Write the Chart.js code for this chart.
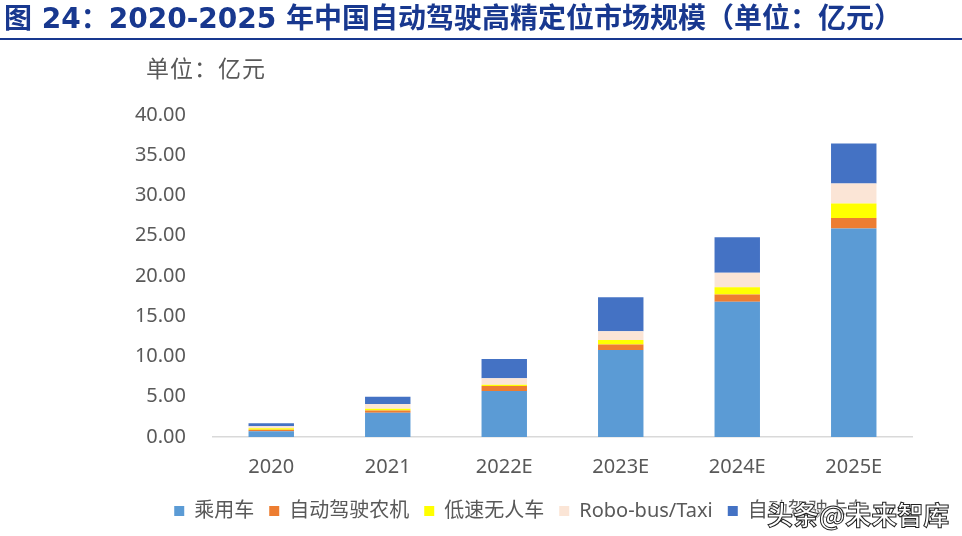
<!DOCTYPE html>
<html>
<head>
<meta charset="utf-8">
<script src="https://cdn.jsdelivr.net/npm/chart.js@4/dist/chart.umd.min.js"></script>
<style>
  html,body{margin:0;padding:0;background:#fff;}
  #wrap{position:relative;width:962px;height:536px;overflow:hidden;font-family:'Noto Sans','Noto Sans CJK SC',sans-serif;}
  #title{position:absolute;left:4px;top:4px;font:bold 28px 'DejaVu Sans','Noto Sans CJK SC',sans-serif;line-height:1.1;color:#18388f;white-space:nowrap;}
  #rule{position:absolute;left:0;top:38px;width:962px;height:2px;background:#18388f;}
  #unit{position:absolute;left:146px;top:57px;font-size:23px;line-height:1;letter-spacing:1px;color:#595959;}
  #mark{position:absolute;left:767px;top:495px;font:bold 26px 'Noto Sans CJK SC',sans-serif;color:#fff;-webkit-text-stroke:1px #222;white-space:nowrap;
    text-shadow:0 0 3px #fff,0 0 3px #fff,0 0 4px #fff;}
  canvas{position:absolute;left:0;top:0;}
</style>
</head>
<body>
<div id="wrap">
  <canvas id="c" width="962" height="536"></canvas>
  <div id="title">图 24：2020-2025 年中国自动驾驶高精定位市场规模（单位：亿元）</div>
  <div id="rule"></div>
  <div id="unit">单位：亿元</div>
  <div id="mark">头条@未来智库</div>
</div>
<script>
const years=['2020','2021','2022E','2023E','2024E','2025E'];
const seriesNames=['乘用车','自动驾驶农机','低速无人车','Robo-bus/Taxi','自动驾驶卡车'];
const passengerCar=[0.7,3.0,5.7,10.8,16.8,25.9];
const agriMachine=[0.2,0.3,0.65,0.7,0.9,1.3];
const lowSpeed=[0.2,0.2,0.15,0.55,0.9,1.8];
const roboBusTaxi=[0.25,0.6,0.8,1.1,1.8,2.5];
const truck=[0.35,0.9,2.4,4.2,4.4,4.95];
const yTicks=[0,5,10,15,20,25,30,35,40];
const colors=['#5B9BD5','#ED7D31','#FFFF00','#FBE5D6','#4472C4'];

const gray='#595959';
const font={family:"'Noto Sans','Noto Sans CJK SC',sans-serif",size:20};

const datasets=[passengerCar,agriMachine,lowSpeed,roboBusTaxi,truck].map((d,i)=>({
  label:seriesNames[i],data:d,backgroundColor:colors[i],borderWidth:0,
  barPercentage:0.39,categoryPercentage:1
}));

new Chart(document.getElementById('c'),{
  type:'bar',
  data:{labels:years,datasets},
  options:{
    responsive:false,animation:false,
    layout:{padding:{left:130,right:50,top:115,bottom:5}},
    plugins:{
      legend:{position:'bottom',labels:{boxWidth:10,boxHeight:10,padding:15,color:gray,font}},
      tooltip:{enabled:false}
    },
    scales:{
      x:{stacked:true,
        grid:{display:false,drawTicks:false},
        border:{color:'#d9d9d9',width:1.5},
        ticks:{color:gray,font,padding:18},
        afterFit:s=>{s.height=49;}
      },
      y:{stacked:true,min:0,max:40,
        afterBuildTicks:s=>{s.ticks=yTicks.map(v=>({value:v}));},
        grid:{display:false,drawTicks:false},
        border:{display:false},
        ticks:{color:gray,font,padding:27,callback:v=>v.toFixed(2)},
        afterFit:s=>{s.width=83;}
      }
    }
  }
});
</script>
</body>
</html>
